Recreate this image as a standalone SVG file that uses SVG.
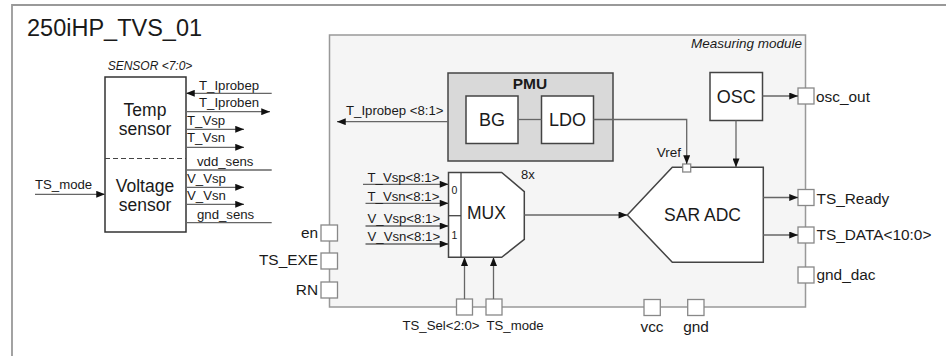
<svg xmlns="http://www.w3.org/2000/svg" width="946" height="356" viewBox="0 0 946 356">
<defs>
<marker id="ah" viewBox="0 0 10 8" refX="10" refY="4" markerWidth="10" markerHeight="7" orient="auto" markerUnits="userSpaceOnUse"><path d="M0,0 L10,4 L0,8 z" fill="#111"/></marker>
<style>
text{font-family:"Liberation Sans",Arial,sans-serif;fill:#1a1a1a}
.w{stroke:#666;stroke-width:1.3;fill:none}
.a{stroke:#666;stroke-width:1.3;fill:none;marker-end:url(#ah)}
.pin{fill:#fff;stroke:#888;stroke-width:1.3}
.blk{fill:#fff;stroke:#444;stroke-width:1.5}
.s13{font-size:13.2px}
.s15{font-size:15.4px}
.big{font-size:18px}
.mid{text-anchor:middle}
.end{text-anchor:end}
</style>
</defs>
<rect width="946" height="356" fill="#fff"/>
<!-- outer frame -->
<path d="M12,356 V5 H946" fill="none" stroke="#999" stroke-width="1.8"/>
<text x="27" y="36" style="font-size:23.5px">250iHP_TVS_01</text>

<!-- Sensor -->
<g id="sensor">
<text x="150" y="70" class="mid" style="font-size:12px;font-style:italic">SENSOR &lt;7:0&gt;</text>
<rect x="105" y="77" width="81" height="155" class="blk" style="stroke:#333"/>
<line x1="105" y1="158.5" x2="186" y2="158.5" stroke="#444" stroke-width="1.2" stroke-dasharray="5,3"/>
<text x="145" y="115.5" class="mid" style="font-size:17.5px">Temp</text>
<text x="145" y="135" class="mid" style="font-size:17.5px">sensor</text>
<text x="145" y="191.5" class="mid" style="font-size:17.5px">Voltage</text>
<text x="145" y="211" class="mid" style="font-size:17.5px">sensor</text>
</g>

<g id="sensor-signals">
<text x="199" y="89.5" class="s13">T_Iprobep</text>
<text x="199" y="107" class="s13">T_Iproben</text>
<text x="187" y="124.5" class="s13">T_Vsp</text>
<text x="187" y="142" class="s13">T_Vsn</text>
<text x="197" y="166" class="s13">vdd_sens</text>
<text x="187" y="182.5" class="s13">V_Vsp</text>
<text x="187" y="199.5" class="s13">V_Vsn</text>
<text x="197" y="218.5" class="s13">gnd_sens</text>
<text x="35" y="188.5" class="s13">TS_mode</text>
</g>

<!-- Measuring module -->
<g id="measuring-module">
<rect x="329.5" y="35" width="476" height="272" fill="#f5f5f5" stroke="#999" stroke-width="1.5"/>
<text x="802" y="47.5" class="end" style="font-size:13.5px;font-style:italic">Measuring module</text>
</g>

<g id="pmu">
<rect x="448" y="73" width="165" height="88" fill="#d9d9d9" stroke="#444" stroke-width="1.5"/>
<text x="530" y="88.5" class="mid" style="font-size:15.5px;font-weight:bold">PMU</text>
</g>
<g id="bg">
<rect x="466" y="96" width="52" height="47.5" class="blk"/>
<text x="492" y="125.5" class="mid big">BG</text>
</g>
<g id="ldo">
<rect x="541.5" y="96" width="52" height="47.5" class="blk"/>
<text x="567.5" y="125.5" class="mid big">LDO</text>
</g>
<g id="osc">
<rect x="710" y="72.5" width="52.5" height="48" class="blk"/>
<text x="736.2" y="102.5" class="mid big">OSC</text>
</g>

<g id="mux">
<path d="M448.5,172.5 H501.7 L524.3,191.7 V239.3 L501.7,257.3 H448.5 Z" class="blk"/>
<line x1="461" y1="172.5" x2="461" y2="257.3" stroke="#444" stroke-width="1.3"/>
<line x1="448.5" y1="215.7" x2="461" y2="215.7" stroke="#444" stroke-width="1.3"/>
<text x="454.5" y="194" class="mid" style="font-size:10.5px">0</text>
<text x="454.5" y="238.5" class="mid" style="font-size:10.5px">1</text>
<text x="486.5" y="219.3" class="mid" style="font-size:17.5px">MUX</text>
<text x="521" y="178.5" style="font-size:13px">8x</text>
</g>

<g id="sar-adc">
<path d="M672.3,167.3 H763.3 V262.3 H672.3 L627.3,215 Z" class="blk"/>
<text x="702.5" y="221" class="mid" style="font-size:17.5px">SAR ADC</text>
<rect x="682.7" y="164" width="8" height="8" class="pin"/>
<text x="681" y="157" class="end" style="font-size:13.5px">Vref</text>
</g>

<!-- Pins -->
<g id="pin-en"><rect x="321" y="225" width="16.5" height="16" class="pin"/><text x="318" y="237.5" class="end s15">en</text></g>
<g id="pin-ts-exe"><rect x="321" y="253" width="16.5" height="16" class="pin"/><text x="318" y="265" class="end s15">TS_EXE</text></g>
<g id="pin-rn"><rect x="321" y="282" width="16.5" height="16" class="pin"/><text x="318" y="294.5" class="end s15">RN</text></g>
<g id="pin-osc-out"><rect x="798" y="88" width="16" height="16" class="pin"/><text x="816" y="102" class="s15">osc_out</text></g>
<g id="pin-ts-ready"><rect x="798" y="189.5" width="16" height="16" class="pin"/><text x="816.5" y="203.5" class="s15">TS_Ready</text></g>
<g id="pin-ts-data"><rect x="798" y="227" width="16" height="16" class="pin"/><text x="816.5" y="240" class="s15">TS_DATA&lt;10:0&gt;</text></g>
<g id="pin-gnd-dac"><rect x="798" y="267" width="16" height="16" class="pin"/><text x="816.5" y="279.5" class="s15">gnd_dac</text></g>
<g id="pin-ts-sel"><rect x="456.5" y="299" width="16" height="16" class="pin"/><text x="479.5" y="330" class="end s13">TS_Sel&lt;2:0&gt;</text></g>
<g id="pin-ts-mode"><rect x="486" y="299" width="16" height="16" class="pin"/><text x="486.5" y="330" class="s13">TS_mode</text></g>
<g id="pin-vcc"><rect x="644" y="299.5" width="16.3" height="16" class="pin"/><text x="652" y="331.5" class="mid s15">vcc</text></g>
<g id="pin-gnd"><rect x="687.7" y="299.5" width="16.3" height="16" class="pin"/><text x="696" y="331.5" class="mid s15">gnd</text></g>

<!-- Connectors -->
<g id="connectors">
<line x1="271.7" y1="93.3" x2="186" y2="93.3" class="a"/>
<line x1="186" y1="111.7" x2="270" y2="111.7" class="a"/>
<line x1="186" y1="129.3" x2="244" y2="129.3" class="a"/>
<line x1="186" y1="147.3" x2="244" y2="147.3" class="a"/>
<line x1="186" y1="170" x2="271.7" y2="170" class="w"/>
<line x1="186" y1="187.3" x2="244" y2="187.3" class="a"/>
<line x1="186" y1="204.3" x2="244" y2="204.3" class="a"/>
<line x1="186" y1="222.7" x2="271.7" y2="222.7" class="w"/>
<line x1="35" y1="194.3" x2="105" y2="194.3" class="a"/>

<line x1="448" y1="121.7" x2="337" y2="121.7" class="a"/>
<text x="346" y="114.5" class="s13">T_Iprobep &lt;8:1&gt;</text>
<line x1="518" y1="119.5" x2="541.5" y2="119.5" class="w"/>
<path d="M593.5,119.5 H686.7 V164" class="a"/>
<line x1="762.5" y1="96" x2="798" y2="96" class="a"/>
<line x1="736" y1="120.5" x2="736" y2="167.3" class="a"/>

<line x1="363" y1="184.3" x2="448.5" y2="184.3" class="a"/>
<line x1="365.5" y1="203.3" x2="448.5" y2="203.3" class="a"/>
<line x1="365.5" y1="226" x2="448.5" y2="226" class="a"/>
<line x1="365.5" y1="244" x2="448.5" y2="244" class="a"/>
<text x="367.5" y="181.5" class="s13">T_Vsp&lt;8:1&gt;</text>
<text x="367.5" y="200.5" class="s13">T_Vsn&lt;8:1&gt;</text>
<text x="367.5" y="223" class="s13">V_Vsp&lt;8:1&gt;</text>
<text x="367.5" y="241" class="s13">V_Vsn&lt;8:1&gt;</text>

<line x1="524.3" y1="215" x2="627.3" y2="215" class="a"/>
<line x1="464.5" y1="299" x2="464.5" y2="257.3" class="a"/>
<line x1="493.5" y1="299" x2="493.5" y2="257.3" class="a"/>
<line x1="763.3" y1="197.5" x2="798" y2="197.5" class="a"/>
<line x1="763.3" y1="235" x2="798" y2="235" class="a"/>
</g>
</svg>
